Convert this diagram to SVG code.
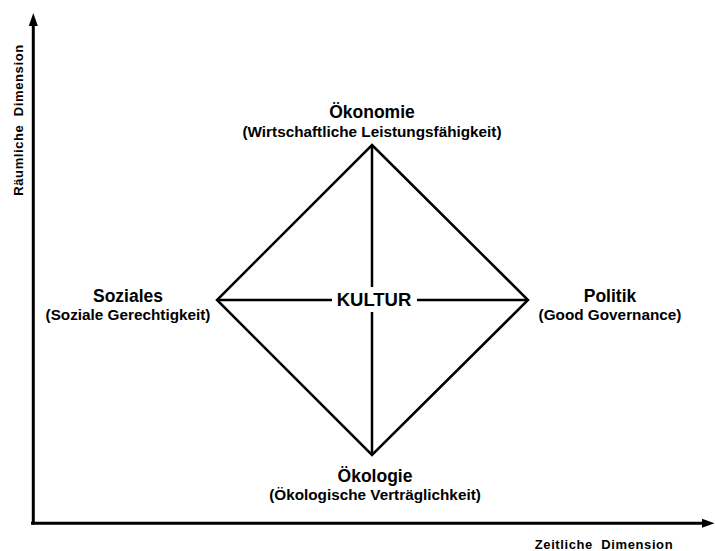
<svg xmlns="http://www.w3.org/2000/svg" width="715" height="551" viewBox="0 0 715 551">
<style>
text{font-family:"Liberation Sans",Arial,sans-serif;font-weight:bold;fill:#000;text-anchor:middle}
.t{font-size:17.5px}
.s{font-size:15.3px}
.ax{font-size:13px;letter-spacing:0.6px}
.k{font-size:18.5px}
.ln{stroke:#000;stroke-width:2.5;fill:none}
.axl{stroke:#000;stroke-width:3;fill:none}
.head{fill:#000}
</style>
<rect width="715" height="551" fill="#fff"/>
<g id="connectors">
<line class="axl" x1="33.3" y1="524.5" x2="33.3" y2="24"/>
<polygon class="head" points="33.3,13 28.8,26 37.8,26"/>
<line class="axl" x1="31" y1="523.3" x2="704" y2="523.3"/>
<polygon class="head" points="714.5,523.3 702,518.8 702,527.8"/>
<path class="ln" d="M372,145 L528,300 L372,455 L217,300 Z" stroke-linejoin="miter"/>
<line class="ln" x1="372" y1="145" x2="372" y2="287"/>
<line class="ln" x1="372" y1="312" x2="372" y2="455"/>
<line class="ln" x1="217" y1="300" x2="332" y2="300"/>
<line class="ln" x1="417" y1="300" x2="528" y2="300"/>
</g>
<g id="oekonomie">
<text class="t" x="372" y="118">Ökonomie</text>
<text class="s" x="372" y="137">(Wirtschaftliche Leistungsfähigkeit)</text>
</g>
<g id="oekologie">
<text class="t" x="375" y="482">Ökologie</text>
<text class="s" x="375" y="500">(Ökologische Verträglichkeit)</text>
</g>
<g id="soziales">
<text class="t" x="128" y="302">Soziales</text>
<text class="s" x="128" y="320">(Soziale Gerechtigkeit)</text>
</g>
<g id="politik">
<text class="t" x="610" y="302">Politik</text>
<text class="s" x="610" y="320">(Good Governance)</text>
</g>
<g id="kultur">
<text class="k" x="374" y="306">KULTUR</text>
</g>
<g id="axes-labels">
<text class="ax" x="0" y="0" transform="translate(23,120) rotate(-90)" xml:space="preserve">Räumliche  Dimension</text>
<text class="ax" x="604" y="549" xml:space="preserve">Zeitliche  Dimension</text>
</g>
</svg>
